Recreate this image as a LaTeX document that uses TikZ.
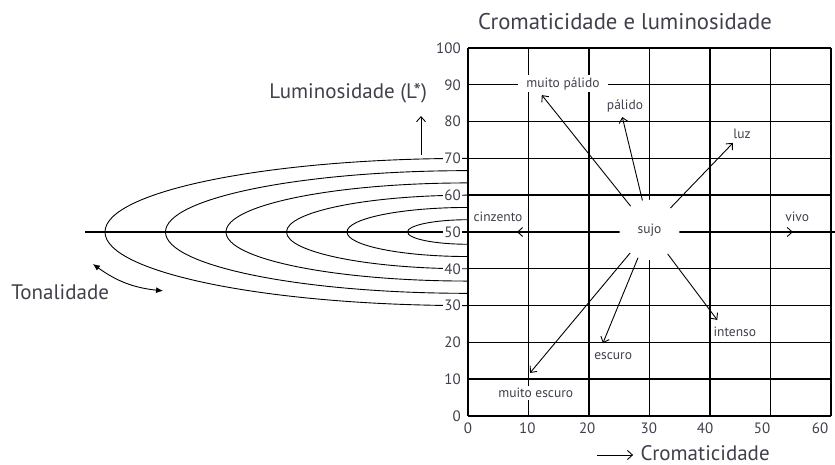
\documentclass[tikz,border=0pt]{standalone}
\usepackage{fontspec}
\setmainfont{PT Sans}
\usetikzlibrary{arrows.meta, positioning, calc}
\definecolor{labelgray}{RGB}{64,64,76}

\begin{document}
\begin{tikzpicture}[
  x=6.05pt, y=3.68pt,
  gridline/.style={line width=1.4pt},
  ring/.style={line width=0.9pt},
  arr/.style={-{Straight Barb[length=5pt, width=9pt]}, line width=0.9pt},
  tag/.style={font=\fontsize{13.5}{15}\selectfont, text=labelgray, inner sep=2pt},
  mask/.style={fill=white, inner xsep=8pt},
  tick/.style={font=\fontsize{15}{17}\selectfont, text=labelgray, inner sep=1pt},
  axlbl/.style={font=\fontsize{21}{24}\selectfont, text=labelgray}
]
\useasboundingbox (-77.355,-13.315) rectangle (60.66,113.04);

% hue rings and the hue axis
\foreach \k in {1,...,6}
  \draw[ring] (0,{50+3.3333*\k}) arc[start angle=90, end angle=270,
                x radius={60.5pt*\k}, y radius={12.267pt*\k}];
\draw[gridline] (-63.3,50) -- (60.6,50);

% chroma / lightness grid
\foreach \v in {0,10,...,60}
  \draw[gridline] (\v,0) -- (\v,100);
\foreach \v in {0,10,...,100}
  \draw[gridline] (0,\v) -- (60,\v);

\foreach \v in {0,10,...,100}
  \node[tick, fill=white, anchor=east] (ly\v) at (-1,\v) {\v};
\foreach \v/\p in {0/0,10/9.8,20/19.7,30/29.9,40/39.2,50/48.6,60/58.2}
  \node[tick, anchor=north] (lx\v) at (\p,-1.6) {\v};

\node[font=\fontsize{22.7}{26}\selectfont, text=labelgray] (title) at (25.95,107.1)
  {Cromaticidade e luminosidade};

% tones round the centre
\node[circle, fill=white, minimum size=60pt, inner sep=0pt,
      font=\fontsize{13.5}{15}\selectfont, text=labelgray] (sujo) at (30,50.6) {sujo};
\node[tag, mask] (mpalido) at (15.7,90.3) {muito pálido};
\node[tag] (palido) at (25.95,84.2) {pálido};
\node[tag] (luz) at (45.3,76.6) {luz};
\node[tag] (cinzento) at (4.96,54.1) {cinzento};
\node[tag] (vivo) at (54.4,54.1) {vivo};
\node[tag] (intenso) at (44.1,22.8) {intenso};
\node[tag] (escuro) at (24.0,16.3) {escuro};
\node[tag, mask] (mescuro) at (11.2,6.3) {muito escuro};

\coordinate (tmpalido) at (12.2,87.2);
\coordinate (tpalido) at (25.5,81.25);
\coordinate (tluz) at (43.8,74.2);
\coordinate (tcinzento) at (8.1,50);
\coordinate (tvivo) at (53.7,50);
\coordinate (tintenso) at (41.2,26.1);
\coordinate (tescuro) at (22.3,19.8);
\coordinate (tmescuro) at (10.25,11.7);

\foreach \t in {tmpalido,tpalido,tluz,tintenso,tescuro,tmescuro}
  \draw[arr] (sujo) -- (\t);
\draw[arr] (sujo.west |- tcinzento) -- (tcinzento);
\draw[arr] (sujo.east |- tvivo) -- (tvivo);

% axis captions
\node[axlbl] (lum) at (-19.8,87.8) {Luminosidade (L*)};
\coordinate (lumfoot) at (-7.77,71);
\coordinate (lumtip) at (-7.77,81.5);
\draw[arr] (lumfoot) -- (lumtip);

\node[axlbl] (hue) at (-67.4,33.7) {Tonalidade};
\coordinate (huea) at (-62,41.3);
\coordinate (hueb) at (-50.4,34);
\draw[{Latex[length=7pt, width=6pt]}-{Latex[length=7pt, width=6pt]}, line width=0.9pt]
  (huea) to[bend right=15] (hueb);

\node[axlbl] (chroma) at (39.2,-10.1) {Cromaticidade};
\coordinate (chrtail) at (21.3,-10.6);
\draw[arr, shorten >=4pt] (chrtail) -- (chrtail -| chroma.west);
\end{tikzpicture}
\end{document}
